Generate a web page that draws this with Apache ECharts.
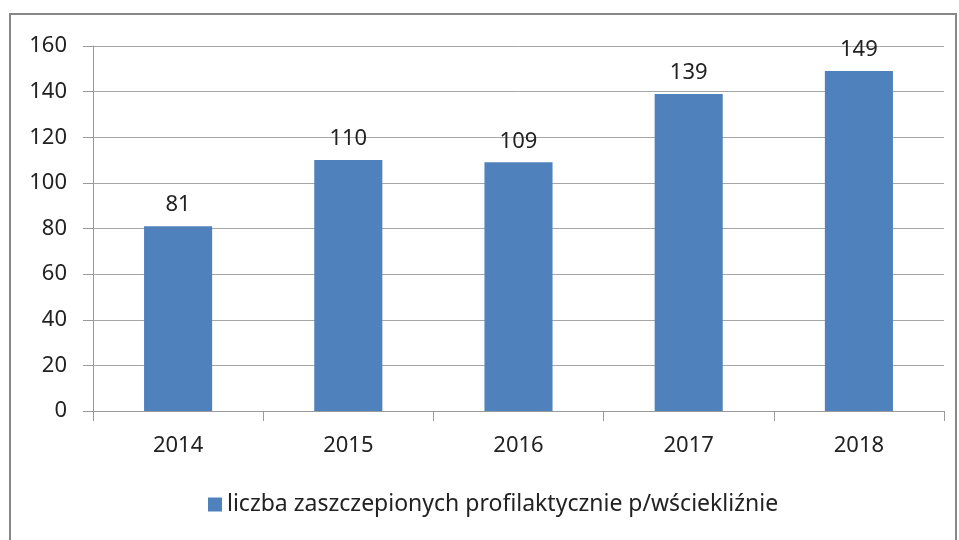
<!DOCTYPE html>
<html><head><meta charset="utf-8">
<script src="https://cdn.jsdelivr.net/npm/echarts@6/dist/echarts.min.js"></script>
<style>html,body{margin:0;padding:0;background:#fff}#c{width:959px;height:540px}</style>
</head><body><div id="c"></div>
<script>
var categories = ['2014', '2015', '2016', '2017', '2018'];
var values = [81, 110, 109, 139, 149];
var seriesName = 'liczba zaszczepionych profilaktycznie p/wściekliźnie';

var chart = echarts.init(document.getElementById('c'));
var font = 'Noto Sans';
chart.setOption({
  animation: false,
  backgroundColor: '#fff',
  graphic: [{
    type: 'rect', shape: {x: 10, y: 14, width: 946, height: 540},
    style: {fill: 'none', stroke: '#878787', lineWidth: 2}, silent: true
  }],
  grid: {left: 93, right: 15, top: 46, bottom: 129, containLabel: false},
  legend: {
    bottom: 19, left: 203, itemWidth: 14, itemHeight: 14, itemGap: 6,
    icon: 'rect',
    textStyle: {fontFamily: font, fontSize: 23, color: '#222'},
    data: [seriesName]
  },
  xAxis: {
    type: 'category', data: categories,
    axisLine: {lineStyle: {color: '#9a9a9a', width: 1}},
    axisTick: {show: true, length: 10, alignWithLabel: false, lineStyle: {color: '#9a9a9a'}},
    axisLabel: {fontFamily: font, fontSize: 22, color: '#222', margin: 24}
  },
  yAxis: {
    type: 'value', min: 0, max: 160, interval: 20,
    axisLine: {show: true, lineStyle: {color: '#9a9a9a', width: 1}},
    axisTick: {show: true, length: 10, lineStyle: {color: '#9a9a9a'}},
    splitLine: {lineStyle: {color: '#a6a6a6', width: 1}},
    axisLabel: {fontFamily: font, fontSize: 22, color: '#222', margin: 26}
  },
  series: [{
    name: seriesName, type: 'bar', data: values, barWidth: '40%',
    itemStyle: {color: '#4f81bd'},
    label: {show: true, position: 'top', distance: 10, fontFamily: font, fontSize: 22, color: '#222'}
  }]
});
</script></body></html>
